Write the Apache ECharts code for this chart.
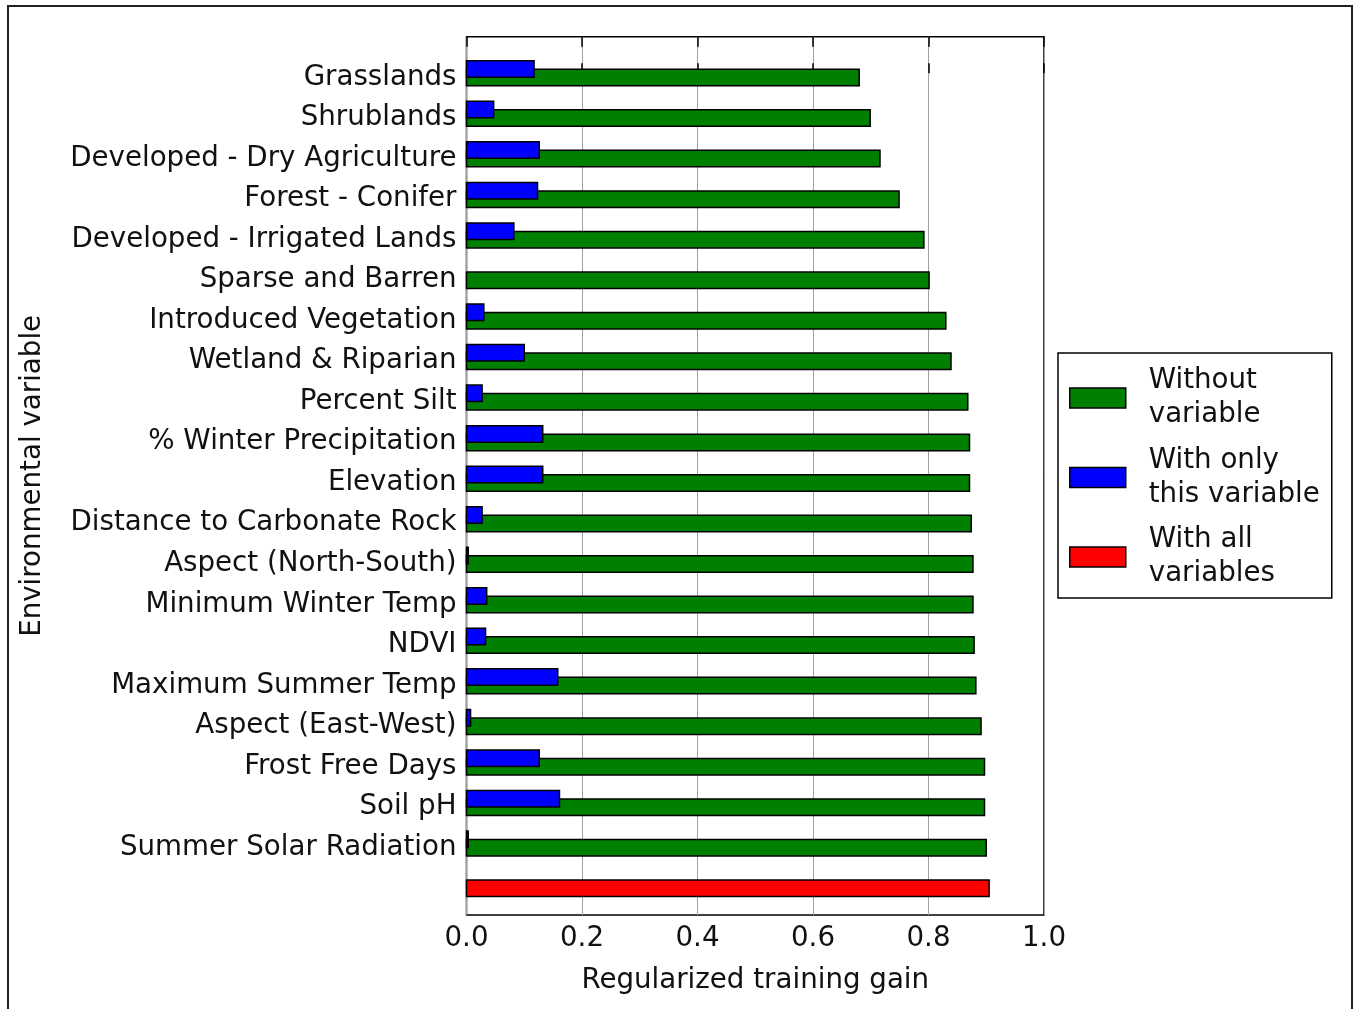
<!DOCTYPE html>
<html>
<head>
<meta charset="utf-8">
<script src="https://cdn.jsdelivr.net/npm/echarts@6/dist/echarts.min.js"></script>
<style>
html,body{margin:0;padding:0;background:#fff;}
#chart{width:1354px;height:1009px;}
</style>
</head>
<body>
<div id="chart"></div>
<script>
const categories = ['Grasslands','Shrublands','Developed - Dry Agriculture','Forest - Conifer','Developed - Irrigated Lands','Sparse and Barren','Introduced Vegetation','Wetland & Riparian','Percent Silt','% Winter Precipitation','Elevation','Distance to Carbonate Rock','Aspect (North-South)','Minimum Winter Temp','NDVI','Maximum Summer Temp','Aspect (East-West)','Frost Free Days','Soil pH','Summer Solar Radiation'];
const withoutVariable = [0.680,0.699,0.716,0.749,0.792,0.801,0.830,0.839,0.868,0.871,0.871,0.874,0.877,0.877,0.879,0.882,0.891,0.897,0.897,0.900];
const withOnlyVariable = [0.117,0.047,0.126,0.123,0.082,0.000,0.030,0.100,0.027,0.132,0.132,0.027,0.003,0.035,0.033,0.158,0.007,0.126,0.161,0.003];
const withAllVariables = [0.905];
const xTicks = [0.0,0.2,0.4,0.6,0.8,1.0];

const FONT = 'DejaVu Sans';
const FS = 27.7;
const TEXT_COLOR = '#111';
const BAR_H = 16.5;
const HALF_OFF = 4.25;
const LABEL_SHIFT = 0.1; // label baseline nudge, in row units

const legendText = {
  'Without variable': 'Without\nvariable',
  'With only this variable': 'With only\nthis variable',
  'With all variables': 'With all\nvariables'
};

function makeRender(color, offset) {
  return function (params, api) {
    const v = api.value(0), y = api.value(1);
    if (!(v > 0)) return null;
    const p0 = api.coord([0, y]);
    const p1 = api.coord([v, y]);
    return {
      type: 'rect',
      shape: { x: p0[0], y: p0[1] + offset - BAR_H / 2, width: p1[0] - p0[0], height: BAR_H },
      style: { fill: color, stroke: '#000', lineWidth: 1.5 }
    };
  };
}

const greenData = withoutVariable.map((v, i) => [v, i]);
const blueData = withOnlyVariable.map((v, i) => [v, i]);
const redData = withAllVariables.map((v) => [v, categories.length]);

const chart = echarts.init(document.getElementById('chart'), null, { renderer: 'canvas' });
chart.setOption({
  animation: false,
  backgroundColor: '#fff',
  textStyle: { fontFamily: FONT },
  graphic: [{
    type: 'rect', z: 100, silent: true,
    shape: { x: 8, y: 6, width: 1344, height: 1020 },
    style: { fill: 'none', stroke: '#222', lineWidth: 2 }
  }],
  grid: {
    left: 466.5, top: 36.7, width: 577.5, height: 878.3,
    show: true, borderColor: '#000', borderWidth: 1.5, backgroundColor: 'transparent'
  },
  legend: {
    orient: 'vertical', left: 1058, top: 353,
    padding: [6, 12, 2, 11], itemGap: 1.5, itemWidth: 56, itemHeight: 20,
    borderColor: '#000', borderWidth: 1.5, backgroundColor: '#fff',
    selectedMode: false,
    formatter: (n) => legendText[n],
    textStyle: { fontFamily: FONT, fontSize: FS, color: TEXT_COLOR, lineHeight: 34, padding: [0, 0, 10, 18] },
    data: [
      { name: 'Without variable', icon: 'rect', itemStyle: { color: '#008000', borderColor: '#000', borderWidth: 1.5 } },
      { name: 'With only this variable', icon: 'rect', itemStyle: { color: '#0000ff', borderColor: '#000', borderWidth: 1.5 } },
      { name: 'With all variables', icon: 'rect', itemStyle: { color: '#ff0000', borderColor: '#000', borderWidth: 1.5 } }
    ]
  },
  xAxis: [{
    type: 'value', position: 'bottom', min: 0, max: 1, interval: 0.2,
    name: 'Regularized training gain', nameLocation: 'middle', nameGap: 52,
    nameTextStyle: { fontFamily: FONT, fontSize: FS, color: TEXT_COLOR },
    axisLine: { show: false },
    axisTick: { show: true, inside: true, length: 10, lineStyle: { color: '#000', width: 1.5 } },
    axisLabel: { margin: 10, fontFamily: FONT, fontSize: FS, color: TEXT_COLOR, formatter: (v) => v.toFixed(1) },
    splitLine: { show: true, lineStyle: { color: '#a0a0a0', width: 1 } }
  }, {
    type: 'value', position: 'top', min: 0, max: 1, interval: 0.2,
    axisLine: { show: false },
    axisTick: { show: true, inside: true, length: 10, lineStyle: { color: '#000', width: 1.5 } },
    axisLabel: { show: false },
    splitLine: { show: false }
  }],
  yAxis: {
    type: 'value', inverse: true, min: -0.902, max: 20.763,
    name: 'Environmental variable', nameLocation: 'middle', nameGap: 420,
    nameTextStyle: { fontFamily: FONT, fontSize: FS, color: TEXT_COLOR },
    axisLine: { show: false },
    axisTick: { show: false },
    splitLine: { show: false },
    axisLabel: {
      margin: 10, fontFamily: FONT, fontSize: FS, color: TEXT_COLOR,
      customValues: categories.map((c, i) => i + LABEL_SHIFT),
      formatter: (v) => categories[Math.round(v)]
    }
  },
  series: [
    { name: 'Without variable', type: 'custom', renderItem: makeRender('#008000', HALF_OFF), data: greenData,
      itemStyle: { color: '#008000', borderColor: '#000', borderWidth: 1.5 }, encode: { x: 0, y: 1 } },
    { name: 'With only this variable', type: 'custom', renderItem: makeRender('#0000ff', -HALF_OFF), data: blueData,
      itemStyle: { color: '#0000ff', borderColor: '#000', borderWidth: 1.5 }, encode: { x: 0, y: 1 } },
    { name: 'With all variables', type: 'custom', renderItem: makeRender('#ff0000', HALF_OFF), data: redData,
      itemStyle: { color: '#ff0000', borderColor: '#000', borderWidth: 1.5 }, encode: { x: 0, y: 1 } }
  ]
});
</script>
</body>
</html>
